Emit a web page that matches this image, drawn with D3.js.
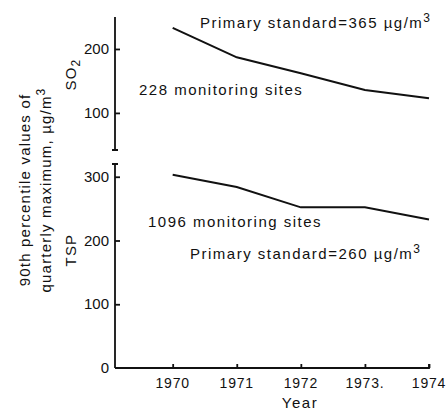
<!DOCTYPE html>
<html>
<head>
<meta charset="utf-8">
<script src="https://cdn.jsdelivr.net/npm/d3@7"></script>
<style>
  body { margin: 0; background: #fff; }
  svg text { font-family: "Liberation Sans", Arial, sans-serif; fill: #111; }
</style>
</head>
<body>
<div id="chart"></div>
<script>
// data
const years = [1970, 1971, 1972, 1973, 1974];
const yearLabels = ["1970", "1971", "1972", "1973.", "1974"];
const so2Values = [233, 187, 162, 136, 123];
const tspValues = [303, 284, 252, 252, 233];
const so2Ticks = [100, 200];
const tspTicks = [0, 100, 200, 300];

const width = 446, height = 410;
const svg = d3.select("#chart").append("svg")
  .attr("width", width).attr("height", height);

//scales
const x = d3.scaleLinear().domain([1969.1, 1974]).range([115, 429]);
const ySo2 = d3.scaleLinear().domain([42, 250]).range([150, 17]);
const yTsp = d3.scaleLinear().domain([0, 320]).range([368, 164]);

const line = (yScale) => d3.line().x((d, i) => x(years[i])).y((d) => yScale(d));

// upper panel (SO2)
const gSo2 = svg.append("g").attr("transform", "translate(115,0)");
gSo2.call(d3.axisRight(ySo2).tickValues(so2Ticks).tickSize(5).tickFormat(""));
gSo2.select(".domain").attr("d", `M0,${ySo2(250)}V${ySo2(42)}M-3,${ySo2(42)}H3`);

// lower panel (TSP)
const gTsp = svg.append("g").attr("transform", "translate(115,0)");
gTsp.call(d3.axisRight(yTsp).tickValues(tspTicks.slice(1)).tickSize(5).tickFormat(""));
gTsp.select(".domain").attr("d", `M-3,${yTsp(320)}H3M0,${yTsp(320)}V${yTsp(0)}`);

svg.selectAll(".domain, .tick line").attr("stroke", "#111").attr("stroke-width", 1.8);

// y tick labels
svg.selectAll(".so2lab").data(so2Ticks).enter().append("text")
  .attr("x", 109).attr("y", (d) => ySo2(d) + 5)
  .attr("text-anchor", "end").attr("font-size", 15).text((d) => d);
svg.selectAll(".tsplab").data(tspTicks).enter().append("text")
  .attr("x", 109).attr("y", (d) => yTsp(d) + 5)
  .attr("text-anchor", "end").attr("font-size", 15).text((d) => d);

// x axis
const gx = svg.append("g").attr("transform", `translate(0,${yTsp(0)})`);
gx.call(d3.axisTop(x).tickValues(years).tickSize(4).tickFormat(""));
gx.select(".domain").attr("d", `M115,0H429V-4`);
gx.selectAll(".domain, .tick line").attr("stroke", "#111").attr("stroke-width", 1.8);
svg.selectAll(".xlab").data(years).enter().append("text")
  .attr("x", (d) => x(d)).attr("y", 388)
  .attr("text-anchor", "middle").attr("font-size", 14)
  .attr("letter-spacing", 0.8)
  .text((d, i) => yearLabels[i]);
svg.append("text").attr("x", 300).attr("y", 408)
  .attr("text-anchor", "middle").attr("font-size", 15)
  .attr("letter-spacing", 1.5).text("Year");

// data lines
svg.append("path").datum(so2Values).attr("d", line(ySo2))
  .attr("fill", "none").attr("stroke", "#111").attr("stroke-width", 2);
svg.append("path").datum(tspValues).attr("d", line(yTsp))
  .attr("fill", "none").attr("stroke", "#111").attr("stroke-width", 2);

// annotations
function standard(xPos, yPos, val) {
  const t = svg.append("text").attr("x", xPos).attr("y", yPos)
    .attr("font-size", 15).attr("letter-spacing", 1.5);
  t.append("tspan").text(`Primary standard=${val} \u00b5g/m`);
  t.append("tspan").attr("dy", -6).attr("font-size", 12).text("3");
}
standard(200, 28, 365);
standard(190, 259, 260);
svg.append("text").attr("x", 139).attr("y", 95)
  .attr("font-size", 15).attr("letter-spacing", 1.5).text("228 monitoring sites");
svg.append("text").attr("x", 148).attr("y", 227)
  .attr("font-size", 15).attr("letter-spacing", 1.5).text("1096 monitoring sites");

// y titles
const yt = svg.append("g").attr("transform", "translate(30,190) rotate(-90)");
yt.append("text").attr("text-anchor", "middle").attr("font-size", 15)
  .attr("letter-spacing", 1.2).text("90th percentile values of");
const yt2 = yt.append("text").attr("y", 21).attr("text-anchor", "middle")
  .attr("font-size", 15).attr("letter-spacing", 1.2);
yt2.append("tspan").text("quarterly maximum, \u00b5g/m");
yt2.append("tspan").attr("dy", -6).attr("font-size", 12).text("3");

const so2Title = svg.append("text")
  .attr("transform", `translate(76,${ySo2(160)}) rotate(-90)`)
  .attr("text-anchor", "middle").attr("font-size", 15).attr("letter-spacing", 1.2);
so2Title.append("tspan").text("SO");
so2Title.append("tspan").attr("dy", 4).attr("font-size", 12).text("2");
svg.append("text")
  .attr("transform", `translate(76,${yTsp(185)}) rotate(-90)`)
  .attr("text-anchor", "middle").attr("font-size", 15).attr("letter-spacing", 1.2)
  .text("TSP");
</script>
</body>
</html>
